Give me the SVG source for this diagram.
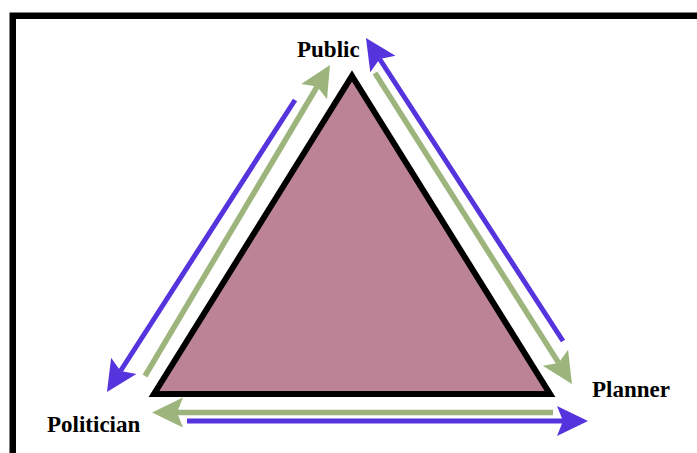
<svg xmlns="http://www.w3.org/2000/svg" width="697" height="453" viewBox="0 0 697 453">
<style>
.lbl{font-family:"Liberation Serif","Times New Roman",serif;font-weight:bold;font-size:23px;fill:#000}
.g{stroke:#9db57d;stroke-width:5.5;fill:none;marker-end:url(#hg)}
.p{stroke:#5533dd;stroke-width:5;fill:none;marker-end:url(#hp)}
</style>
<defs>
<marker id="hg" viewBox="-10 -16 40 32" refX="0" refY="0" markerWidth="40" markerHeight="32" markerUnits="userSpaceOnUse" orient="auto">
<path d="M25,0 L-6,-15 L0,0 L-6,15 Z" fill="#9db57d"/>
</marker>
<marker id="hp" viewBox="-10 -16 40 32" refX="0" refY="0" markerWidth="40" markerHeight="32" markerUnits="userSpaceOnUse" orient="auto">
<path d="M25,0 L-6,-15 L0,0 L-6,15 Z" fill="#5533dd"/>
</marker>
</defs>
<rect width="697" height="453" fill="#fff"/>
<path d="M12.75,460 V15.75 H705" fill="none" stroke="#000" stroke-width="6.5"/>
<g id="triangle">
<path d="M352,76 L550,394 L154,394 Z" fill="#bc8397" stroke="#000" stroke-width="6" stroke-linejoin="miter"/>
</g>
<g id="connectors">
<line class="g" x1="145" y1="376" x2="317.2" y2="86.5"/>
<line class="p" x1="295" y1="100" x2="120.5" y2="371"/>
<line class="p" x1="563" y1="341" x2="379.6" y2="59"/>
<line class="g" x1="375" y1="73" x2="558.6" y2="362.9"/>
<line class="g" x1="553" y1="412.5" x2="177" y2="412.5"/>
<line class="p" x1="187" y1="421" x2="563" y2="421"/>
</g>
<g id="public"><text class="lbl" x="297" y="57">Public</text></g>
<g id="politician"><text class="lbl" x="47" y="432">Politician</text></g>
<g id="planner"><text class="lbl" x="592" y="397">Planner</text></g>
</svg>
